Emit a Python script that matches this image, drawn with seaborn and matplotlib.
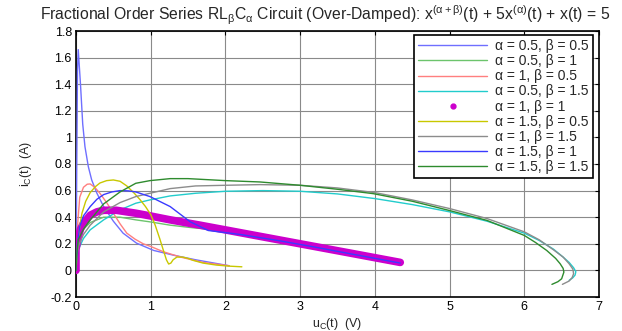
import numpy as np
import pandas as pd
import matplotlib
matplotlib.use("Agg")
import matplotlib.pyplot as plt
from matplotlib.lines import Line2D
import seaborn as sns

# ---------------- data ----------------
labels = ["α = 0.5, β = 0.5", "α = 0.5, β = 1", "α = 1, β = 0.5",
          "α = 0.5, β = 1.5", "α = 1, β = 1", "α = 1.5, β = 0.5",
          "α = 1, β = 1.5", "α = 1.5, β = 1", "α = 1.5, β = 1.5"]

s1_x = [0.0, 0.01, 0.02, 0.03, 0.06, 0.09, 0.12, 0.165, 0.21, 0.28, 0.37, 0.5, 0.63, 0.81, 1.04, 1.3, 1.6, 1.85, 2.05]
s1_y = [0.0, 0.8, 1.5, 1.66, 1.4, 1.1, 0.93, 0.78, 0.68, 0.58, 0.48, 0.37, 0.28, 0.205, 0.15, 0.115, 0.08, 0.055, 0.035]

s2_x = [0.0, 0.02, 0.05, 0.1, 0.19, 0.37, 0.59, 0.8, 0.99, 1.26, 1.57, 2.0, 2.5, 3.0, 3.7, 4.34]
s2_y = [0.0, 0.15, 0.25, 0.31, 0.36, 0.4, 0.4, 0.38, 0.365, 0.34, 0.32, 0.3, 0.255, 0.2, 0.13, 0.06]

s3_x = [0.0, 0.01, 0.02, 0.05, 0.1, 0.15, 0.19, 0.25, 0.32, 0.41, 0.5, 0.59, 0.68, 0.79, 0.9, 1.0, 1.17, 1.4, 1.7, 2.05]
s3_y = [0.0, 0.2, 0.33, 0.55, 0.625, 0.648, 0.65, 0.625, 0.58, 0.51, 0.43, 0.35, 0.28, 0.235, 0.2, 0.18, 0.14, 0.1, 0.06, 0.035]

s4_x = [0.0, 0.01, 0.03, 0.1, 0.19, 0.37, 0.59, 0.8, 0.99, 1.26, 1.6, 2.0, 2.5, 3.0, 3.5, 4.0, 4.5, 5.0, 5.5, 6.0, 6.2, 6.39, 6.52, 6.6, 6.66, 6.69, 6.68, 6.65, 6.6]
s4_y = [0.0, 0.08, 0.155, 0.24, 0.305, 0.38, 0.455, 0.505, 0.53, 0.56, 0.58, 0.595, 0.6, 0.595, 0.575, 0.54, 0.495, 0.44, 0.37, 0.28, 0.225, 0.16, 0.1, 0.06, 0.02, -0.01, -0.035, -0.055, -0.075]

s5_x = [0.0, 0.0, 0.0, 0.03, 0.06, 0.1, 0.19, 0.28, 0.37, 0.54, 0.8, 0.99, 1.26, 1.66, 2.33, 3.0, 3.7, 4.34]
s5_y = [0.0, 0.08, 0.16, 0.25, 0.31, 0.355, 0.415, 0.44, 0.452, 0.452, 0.43, 0.41, 0.38, 0.34, 0.27, 0.2, 0.127, 0.06]

s6_x = [0.0, 0.02, 0.05, 0.08, 0.13, 0.19, 0.26, 0.32, 0.41, 0.5, 0.59, 0.68, 0.78, 0.86, 0.93, 1.0, 1.06, 1.12, 1.17, 1.21, 1.24, 1.27, 1.3, 1.35, 1.43, 1.5, 1.57, 1.7, 1.88, 2.05, 2.22]
s6_y = [0.0, 0.17, 0.33, 0.43, 0.52, 0.585, 0.63, 0.657, 0.675, 0.68, 0.67, 0.635, 0.58, 0.53, 0.48, 0.42, 0.34, 0.24, 0.15, 0.08, 0.048, 0.055, 0.08, 0.1, 0.1, 0.09, 0.075, 0.055, 0.04, 0.032, 0.027]

s7_x = [0.0, 0.01, 0.03, 0.1, 0.19, 0.37, 0.59, 0.8, 0.99, 1.26, 1.6, 2.0, 2.46, 3.0, 3.5, 4.0, 4.5, 5.0, 5.5, 6.0, 6.2, 6.39, 6.52, 6.6, 6.65, 6.66, 6.64, 6.6, 6.51]
s7_y = [0.0, 0.1, 0.18, 0.27, 0.34, 0.44, 0.51, 0.555, 0.58, 0.615, 0.635, 0.64, 0.645, 0.64, 0.62, 0.585, 0.53, 0.465, 0.39, 0.29, 0.23, 0.155, 0.1, 0.05, 0.01, -0.025, -0.055, -0.08, -0.105]

s8_x = [0.0, 0.02, 0.05, 0.1, 0.19, 0.28, 0.37, 0.48, 0.59, 0.7, 0.8, 0.99, 1.26, 1.53, 1.77, 2.2, 2.7, 3.2, 3.7, 4.34]
s8_y = [0.0, 0.2, 0.33, 0.41, 0.48, 0.535, 0.57, 0.59, 0.6, 0.598, 0.59, 0.555, 0.48, 0.365, 0.3, 0.27, 0.225, 0.175, 0.122, 0.055]

s9_x = [0.0, 0.01, 0.03, 0.1, 0.19, 0.37, 0.59, 0.8, 0.99, 1.26, 1.5, 2.0, 2.46, 3.0, 3.5, 3.98, 4.5, 5.0, 5.5, 6.0, 6.15, 6.3, 6.42, 6.48, 6.52, 6.53, 6.5, 6.45, 6.37]
s9_y = [0.0, 0.12, 0.23, 0.31, 0.38, 0.5, 0.59, 0.655, 0.675, 0.69, 0.69, 0.675, 0.665, 0.64, 0.61, 0.577, 0.52, 0.45, 0.376, 0.263, 0.21, 0.15, 0.09, 0.05, 0.015, -0.013, -0.063, -0.085, -0.105]

xticks = [0, 1, 2, 3, 4, 5, 6, 7]
yticks = [-0.2, 0, 0.2, 0.4, 0.6, 0.8, 1.0, 1.2, 1.4, 1.6, 1.8]
ytick_labels = ["-0.2", "0", "0.2", "0.4", "0.6", "0.8", "1", "1.2", "1.4", "1.6", "1.8"]

series_x = [s1_x, s2_x, s3_x, s4_x, s5_x, s6_x, s7_x, s8_x, s9_x]
series_y = [s1_y, s2_y, s3_y, s4_y, s5_y, s6_y, s7_y, s8_y, s9_y]

# ---------------- style ----------------
colors = ["#6f6fff", "#6cc46c", "#ff7f7f", "#22cccc", "#cc00cc",
          "#c8c800", "#8c8c8c", "#3a3aff", "#2e8b2e"]
widths = [1.0, 1.0, 1.0, 1.0, 5.5, 1.0, 1.0, 1.0, 1.0]

sns.set_style("white")
plt.rcParams["font.family"] = ["Liberation Sans", "DejaVu Sans"]
plt.rcParams["mathtext.fontset"] = "custom"
plt.rcParams["mathtext.rm"] = "Liberation Sans"
plt.rcParams["mathtext.it"] = "Liberation Sans"
plt.rcParams["mathtext.bf"] = "Liberation Sans"

fig = plt.figure(figsize=(6.22, 3.31), dpi=100)
ax = fig.add_axes([76 / 622, 1 - 297 / 331, (599 - 76) / 622, (297 - 31) / 331])

frames = []
for i, (xs, ys) in enumerate(zip(series_x, series_y)):
    frames.append(pd.DataFrame({"u": xs, "i": ys, "series": labels[i]}))

for i, df in enumerate(frames):
    sns.lineplot(data=df, x="u", y="i", sort=False, estimator=None, ax=ax,
                 color=colors[i], linewidth=widths[i], legend=False, zorder=3)

ax.set_xlim(0, 7)
ax.set_ylim(-0.2, 1.8)
ax.set_xticks(xticks)
ax.set_yticks(yticks)
ax.set_yticklabels(ytick_labels)
ax.grid(True, color="#8a8a8a", linewidth=0.8)
ax.tick_params(direction="in", length=3, top=True, right=True, labelsize=9, colors="black", pad=3)
for s in ax.spines.values():
    s.set_color("black")
    s.set_linewidth(1.2)

ax.set_xlabel(r"u$_\mathrm{C}$(t)  (V)", fontsize=9, labelpad=2)
ax.set_ylabel(r"i$_\mathrm{C}$(t)  (A)", fontsize=9, labelpad=12)
ax.set_title(r"Fractional Order Series RL$_\beta$C$_\alpha$ Circuit (Over-Damped): "
             r"x$^{(\alpha+\beta)}$(t) + 5x$^{(\alpha)}$(t) + x(t) = 5",
             fontsize=11.3, pad=8)
ax.title.set_position((0.477, 1.0))

handles = []
for i in range(9):
    if i == 4:
        handles.append(Line2D([], [], color=colors[i], marker=".", markersize=7, linestyle="none"))
    else:
        handles.append(Line2D([], [], color=colors[i], linewidth=1.0))
leg = ax.legend(handles, labels, loc="upper right", fontsize=10, frameon=True, fancybox=False,
                handlelength=5.0, labelspacing=0.08, borderpad=0.3, handletextpad=0.55,
                bbox_to_anchor=(0.988, 0.985), borderaxespad=0)
leg.get_frame().set_edgecolor("black")
leg.get_frame().set_linewidth(1.2)
leg.get_frame().set_alpha(1)

fig.savefig("out.png", dpi=100)
